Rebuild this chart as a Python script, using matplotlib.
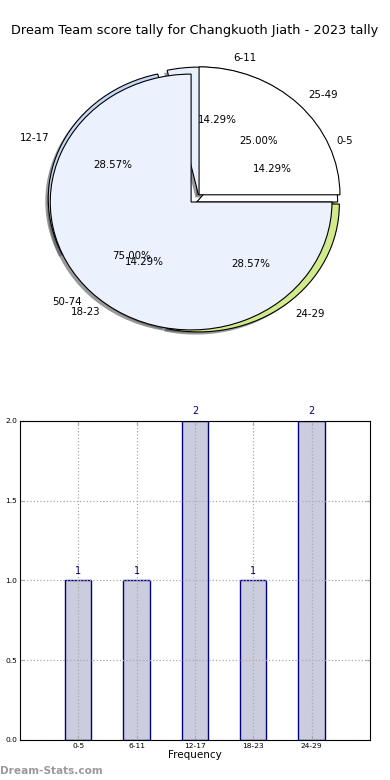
import numpy as np
import matplotlib
matplotlib.use("Agg")
import matplotlib.pyplot as plt

# score ranges (points per game) and how often each occurred
ranges_low = ["0-5", "6-11", "12-17", "18-23", "24-29"]
counts_low = [1, 1, 2, 1, 2]
ranges_high = ["25-49", "50-74"]
counts_high = [1, 3]

colors_low = ["#ffffff", "#e9f0fc", "#c6d8f6", "#d8d8d8", "#d0ea8c"]
colors_high = ["#ffffff", "#ebf1fd"]
explode_low = [0.0, 0.056, 0.06, 0.0, 0.02]
explode_high = [0.08, 0.0]

title = "Dream Team score tally for Changkuoth Jiath - 2023 tally"

fig = plt.figure(figsize=(3.9, 7.8), dpi=100)
fig.text(0.5, 0.961, title, ha="center", va="center", fontsize=9.3)

# pie panel - two pies drawn on the same axes
ax1 = fig.add_axes([0.0385, 0.536, 0.903, 0.41])
wedge_kw = dict(edgecolor="black", linewidth=0.8)
shadow_kw = dict(ox=-0.015, oy=-0.015, facecolor="#555555", edgecolor="none", alpha=0.6)
ax1.pie(counts_low, labels=ranges_low, colors=colors_low, explode=explode_low,
        autopct="%1.2f%%", startangle=0, shadow=shadow_kw, wedgeprops=wedge_kw,
        center=(0.04, 0.0), textprops=dict(fontsize=7.4))
ax1.pie(counts_high, labels=ranges_high, colors=colors_high, explode=explode_high,
        autopct="%1.2f%%", startangle=0, shadow=shadow_kw, wedgeprops=wedge_kw,
        textprops=dict(fontsize=7.4))
ax1.set_aspect("auto")
ax1.set_xlim(-1.25, 1.25)
ax1.set_ylim(-1.25, 1.25)
ax1.axis("off")

# bar panel
ax2 = fig.add_axes([0.0513, 0.0513, 0.897, 0.409])
x = np.arange(len(ranges_low))
ax2.bar(x, counts_low, width=0.45, color="#ccccdf", edgecolor="#000080",
        linewidth=1.0, zorder=2)
for xi, v in zip(x, counts_low):
    ax2.text(xi, v + 0.03, str(v), ha="center", va="bottom", color="#000080",
             fontsize=7, clip_on=False)
ax2.set_xlim(-1, 5)
ax2.set_ylim(0, 2.0)
ax2.set_xticks(x)
ax2.set_xticklabels(ranges_low, fontsize=5.4)
ax2.set_yticks([0, 0.5, 1.0, 1.5, 2.0])
ax2.set_yticklabels(["0.0", "0.5", "1.0", "1.5", "2.0"], fontsize=5.4)
ax2.tick_params(direction="in", top=True, right=True, color="#aaaaaa",
                length=3, pad=2)
ax2.grid(True, linestyle=":", color="#aaaaaa", linewidth=0.9)
ax2.set_axisbelow(False)
for sp in ax2.spines.values():
    sp.set_zorder(4)
ax2.set_xlabel("Frequency", fontsize=7.5, labelpad=1)

fig.text(0.0, 0.012, "Dream-Stats.com", ha="left", va="center", fontsize=7.6,
         fontweight="bold", color="#9a9a9a")

fig.savefig("out.png", dpi=100)
